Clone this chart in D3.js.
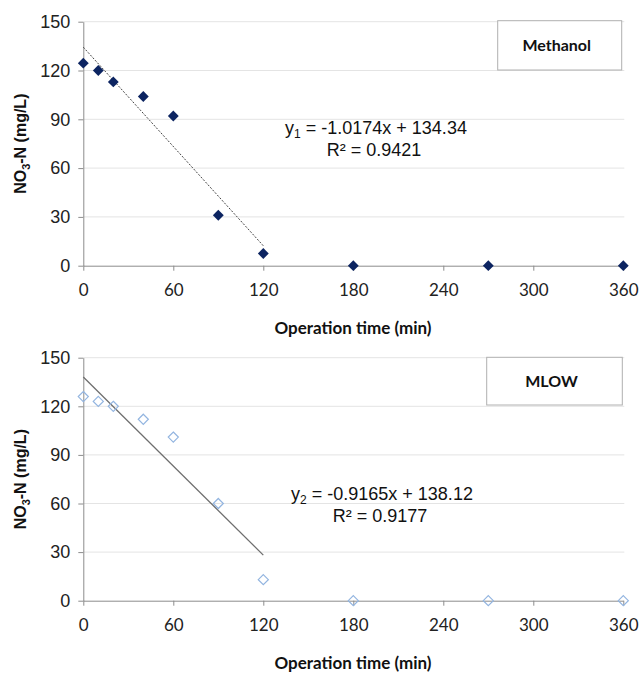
<!DOCTYPE html>
<html><head><meta charset="utf-8">
<script src="https://cdn.jsdelivr.net/npm/d3@7"></script>
<style>body{margin:0;background:#fff}svg{display:block}</style>
</head><body>
<svg id="c" width="639" height="673"></svg>
<script>
const times = [0, 10, 20, 40, 60, 90, 120, 180, 270, 360];
const methanol = [124.5, 120, 113, 104, 92, 31, 7.5, 0, 0, 0];
const mlow = [126, 123, 120, 112, 101, 60, 13, 0, 0, 0];
const xTicks = [0, 60, 120, 180, 240, 300, 360];
const yTicks = [0, 30, 60, 90, 120, 150];
const fit1 = {slope: -1.0174, intercept: 134.34, r2: "0.9421", label: "Methanol", idx: "1"};
const fit2 = {slope: -0.9165, intercept: 138.12, r2: "0.9177", label: "MLOW", idx: "2"};
const fitRange = [0, 120];

const svg = d3.select("#c");
const x = d3.scaleLinear().domain([0, 360]).range([83.3, 623.3]);

function panel(top, bottom, values, fit, opts) {
  const y = d3.scaleLinear().domain([0, 150]).range([bottom, top]);
  const g = svg.append("g");
  // gridlines
  g.selectAll(".grid").data(yTicks.filter(d => d > 0)).join("line")
    .attr("x1", x(0)).attr("x2", x(360) + 1)
    .attr("y1", d => y(d)).attr("y2", d => y(d))
    .attr("stroke", "#e4e4e4").attr("stroke-width", 1);
  // y axis
  const ya = g.append("g").attr("transform", `translate(${x(0)},0)`)
    .call(d3.axisLeft(y).tickValues(yTicks).tickSize(5).tickPadding(8).tickSizeOuter(0));
  ya.select(".domain").attr("stroke", "#8c8c8c");
  ya.selectAll(".tick line").attr("stroke", "#8c8c8c");
  ya.selectAll("text").attr("font-family", "Liberation Sans, Arial, sans-serif")
    .attr("font-size", 18).attr("fill", "#222");
  // x axis
  const xa = g.append("g").attr("transform", `translate(0,${bottom})`)
    .call(d3.axisBottom(x).tickValues(xTicks).tickSize(5).tickPadding(13).tickSizeOuter(0));
  xa.select(".domain").attr("stroke", "#8c8c8c");
  xa.selectAll(".tick line").attr("stroke", "#8c8c8c");
  xa.selectAll("text").attr("font-family", "Lato, sans-serif")
    .attr("font-size", 17).attr("fill", "#222");
  // axis titles
  g.append("text").attr("x", 353).attr("y", bottom + 68)
    .attr("text-anchor", "middle").attr("font-family", "Lato, sans-serif")
    .attr("font-weight", "bold").attr("font-size", 17).attr("fill", "#111")
    .text("Operation time (min)");
  const yt = g.append("text")
    .attr("transform", `translate(26,${(top + bottom) / 2}) rotate(-90)`)
    .attr("text-anchor", "middle").attr("font-family", "Liberation Sans, Arial, sans-serif")
    .attr("font-weight", "bold").attr("font-size", 16).attr("fill", "#111");
  yt.append("tspan").text("NO");
  yt.append("tspan").attr("font-size", 11).attr("dy", 4).text("3");
  yt.append("tspan").attr("dy", -4).text("-N (mg/L)");
  // trend line
  g.append("line")
    .attr("x1", x(fitRange[0])).attr("y1", y(fit.intercept + fit.slope * fitRange[0]))
    .attr("x2", x(fitRange[1])).attr("y2", y(fit.intercept + fit.slope * fitRange[1]))
    .attr("stroke", opts.lineColor).attr("stroke-width", opts.lineWidth)
    .attr("stroke-dasharray", opts.dash);
  // markers
  const sym = d3.symbol().type(d3.symbolDiamond2).size(opts.symSize);
  g.selectAll(".pt").data(times.map((t, i) => [t, values[i]])).join("path")
    .attr("d", sym)
    .attr("transform", d => `translate(${x(d[0])},${y(d[1])})`)
    .attr("fill", opts.fill).attr("stroke", opts.stroke).attr("stroke-width", opts.sw);
  // equation
  const eq = g.append("text").attr("x", opts.eqX).attr("y", opts.eqY)
    .attr("text-anchor", "middle").attr("font-family", "Liberation Sans, Arial, sans-serif")
    .attr("font-size", 18).attr("fill", "#111");
  eq.append("tspan").text("y");
  eq.append("tspan").attr("font-size", 12).attr("dy", 4).text(fit.idx);
  eq.append("tspan").attr("dy", -4)
    .text(` = ${fit.slope.toFixed(4)}x + ${fit.intercept.toFixed(2)}`);
  g.append("text").attr("x", opts.eqX - 2).attr("y", opts.eqY + 22)
    .attr("text-anchor", "middle").attr("font-family", "Liberation Sans, Arial, sans-serif")
    .attr("font-size", 18).attr("fill", "#111").text(`R² = ${fit.r2}`);
  // legend box
  g.append("rect").attr("x", opts.box[0]).attr("y", opts.box[1])
    .attr("width", opts.box[2]).attr("height", opts.box[3])
    .attr("fill", "#fff").attr("stroke", "#b0b0b0").attr("stroke-width", 1);
  g.append("text").attr("x", opts.box[0] + opts.box[2] / 2 - 3)
    .attr("y", opts.box[1] + opts.box[3] / 2 + 6)
    .attr("text-anchor", "middle").attr("font-family", "Lato, sans-serif")
    .attr("font-weight", "bold").attr("font-size", 16).attr("fill", "#111")
    .text(fit.label);
}

panel(21.7, 265.7, methanol, fit1, {
  lineColor: "#444", lineWidth: 1, dash: "2,1.5",
  symSize: 75, fill: "#0c2461", stroke: "none", sw: 0,
  eqX: 376, eqY: 134, box: [497.7, 20.7, 124, 49.3]
});
panel(357.7, 600.7, mlow, fit2, {
  lineColor: "#6e6e6e", lineWidth: 1.3, dash: null,
  symSize: 65, fill: "none", stroke: "#93b5e0", sw: 1.2,
  eqX: 382, eqY: 500, box: [486.7, 357.3, 135.6, 47.7]
});
</script>
</body></html>
